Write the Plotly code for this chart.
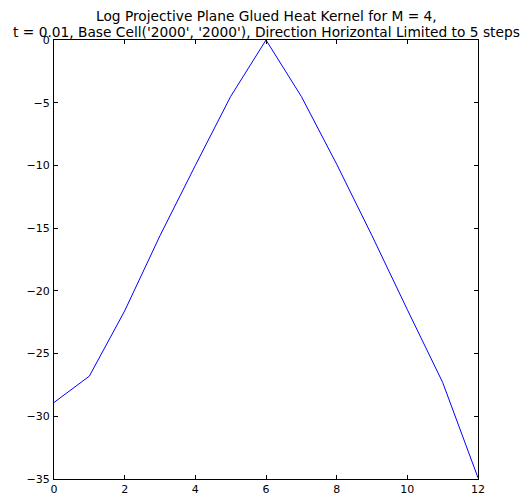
import plotly.graph_objects as go

x_vals = [0, 1, 2, 3, 4, 5, 6, 7, 8, 9, 10, 11, 12]
y_vals = [-28.9, -26.8, -21.6, -15.6, -10.0, -4.5, 0.0, -4.5, -9.9, -15.6, -21.5, -27.3, -34.9]
x_ticks = [0, 2, 4, 6, 8, 10, 12]
y_ticks = [0, -5, -10, -15, -20, -25, -30, -35]

title_line1 = "Log Projective Plane Glued Heat Kernel for M = 4,"
title_line2 = "t = 0.01, Base Cell('2000', '2000'), Direction Horizontal Limited to 5 steps"

# page has an 8px body margin; figure is offset accordingly
W, H = 520, 492
ML, MR, MT, MB = 46, 50, 32, 21
plot_h = H - MT - MB

fig = go.Figure()
fig.add_trace(go.Scatter(x=x_vals, y=y_vals, mode="lines",
                         line=dict(color="#0000ff", width=1)))

axis_common = dict(showgrid=False, zeroline=False, showline=True, linecolor="black",
                   linewidth=1, mirror="ticks", ticks="inside", ticklen=4,
                   tickcolor="black", automargin=False,
                   tickfont=dict(family="DejaVu Sans", size=11, color="black"))

title_font = dict(family="DejaVu Sans", size=13.75, color="black")
annotations = [
    dict(text=title_line1, xref="paper", yref="paper", x=0.5, y=1 + (MT - 7.5) / plot_h,
         xanchor="center", yanchor="middle", showarrow=False, font=title_font),
    dict(text=title_line2, xref="paper", yref="paper", x=0.5, y=1 + (MT - 23.5) / plot_h,
         xanchor="center", yanchor="middle", showarrow=False, font=title_font),
]

fig.update_layout(
    width=W, height=H,
    margin=dict(l=ML, r=MR, t=MT, b=MB, autoexpand=False),
    paper_bgcolor="white", plot_bgcolor="white",
    showlegend=False,
    annotations=annotations,
    xaxis=dict(range=[0, 12], tickvals=x_ticks, ticktext=[str(v) for v in x_ticks], **axis_common),
    yaxis=dict(range=[-35, 0], tickvals=y_ticks,
               ticktext=["\u2212" + str(-v) if v else "0" for v in y_ticks],
               ticklabelstandoff=1, **axis_common),
)

fig.write_html("out.html")
